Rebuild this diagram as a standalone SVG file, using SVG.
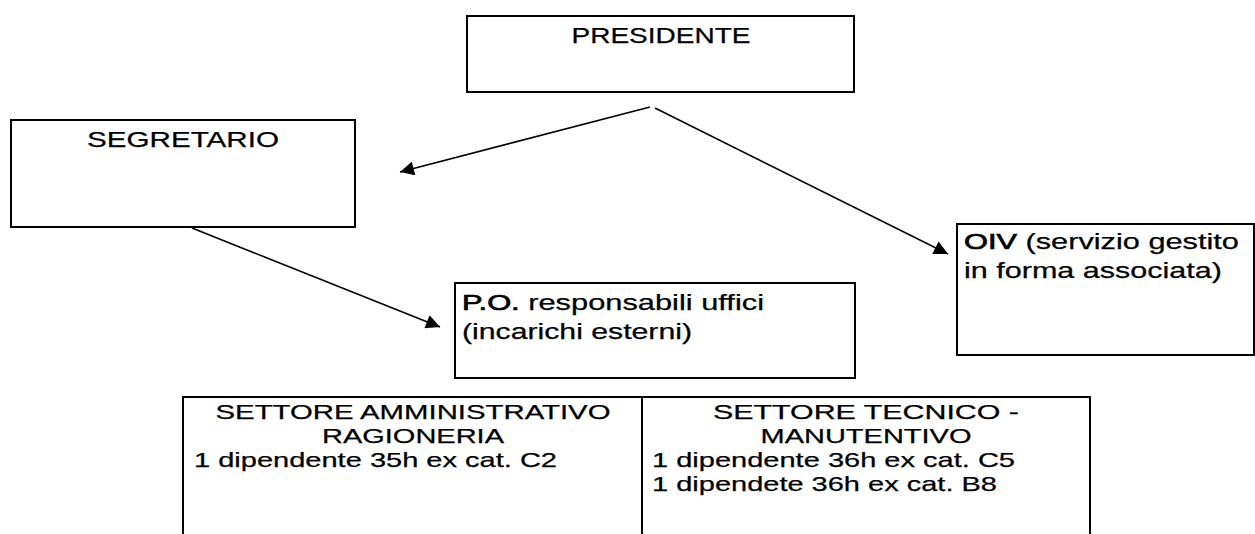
<svg xmlns="http://www.w3.org/2000/svg" width="1255" height="534" viewBox="0 0 1255 534">
<style>
.box{fill:#fff;stroke:#000;stroke-width:2}
.t{font-family:"Liberation Sans",Arial,sans-serif;font-size:22px;fill:#000;stroke:#000;stroke-width:0.25}
.s{font-size:21px}
.c{text-anchor:middle}
.b{stroke:#000;stroke-width:0.7}
.ln{stroke:#000;stroke-width:1.6;fill:none}
</style>
<defs>
<marker id="ah" viewBox="0 0 10 10" refX="10" refY="5" markerWidth="17" markerHeight="14" markerUnits="userSpaceOnUse" orient="auto">
<path d="M0,0 L10,5 L0,10 z" fill="#000"/>
</marker>
</defs>
<rect width="1255" height="534" fill="#fff"/>
<g id="presidente">
<rect class="box" x="467" y="16" width="387" height="76"/>
<text class="t c" x="661" y="43" textLength="179" lengthAdjust="spacingAndGlyphs">PRESIDENTE</text>
</g>
<g id="segretario">
<rect class="box" x="11" y="120" width="344" height="107"/>
<text class="t c" x="183" y="147" textLength="192" lengthAdjust="spacingAndGlyphs">SEGRETARIO</text>
</g>
<g id="po">
<rect class="box" x="455" y="283" width="400" height="95"/>
<text class="t" x="462" y="310" textLength="302" lengthAdjust="spacingAndGlyphs"><tspan class="b">P.O.</tspan> responsabili uffici</text>
<text class="t" x="462" y="339" textLength="230" lengthAdjust="spacingAndGlyphs">(incarichi esterni)</text>
</g>
<g id="oiv">
<rect class="box" x="957" y="224" width="297" height="131"/>
<text class="t" x="964" y="249" textLength="275" lengthAdjust="spacingAndGlyphs"><tspan class="b">OIV</tspan> (servizio gestito</text>
<text class="t" x="964" y="278" textLength="258" lengthAdjust="spacingAndGlyphs">in forma associata)</text>
</g>
<g id="settori">
<rect class="box" x="183" y="397" width="907" height="150"/>
<line class="ln" x1="642" y1="397" x2="642" y2="534" style="stroke-width:2"/>
<text class="t s c" x="413" y="419" textLength="395" lengthAdjust="spacingAndGlyphs">SETTORE AMMINISTRATIVO</text>
<text class="t s c" x="413" y="443" textLength="182" lengthAdjust="spacingAndGlyphs">RAGIONERIA</text>
<text class="t s" x="194" y="467" textLength="363" lengthAdjust="spacingAndGlyphs">1 dipendente 35h ex cat. C2</text>
<text class="t s c" x="866" y="419" textLength="306" lengthAdjust="spacingAndGlyphs">SETTORE TECNICO -</text>
<text class="t s c" x="866" y="443" textLength="211" lengthAdjust="spacingAndGlyphs">MANUTENTIVO</text>
<text class="t s" x="652" y="467" textLength="363" lengthAdjust="spacingAndGlyphs">1 dipendente 36h ex cat. C5</text>
<text class="t s" x="652" y="491" textLength="345" lengthAdjust="spacingAndGlyphs">1 dipendete 36h ex cat. B8</text>
</g>
<g id="connectors">
<line class="ln" x1="650" y1="107" x2="400" y2="172" marker-end="url(#ah)"/>
<line class="ln" x1="655" y1="108" x2="948" y2="254" marker-end="url(#ah)"/>
<line class="ln" x1="192" y1="228" x2="440" y2="327" marker-end="url(#ah)"/>
</g>
</svg>
